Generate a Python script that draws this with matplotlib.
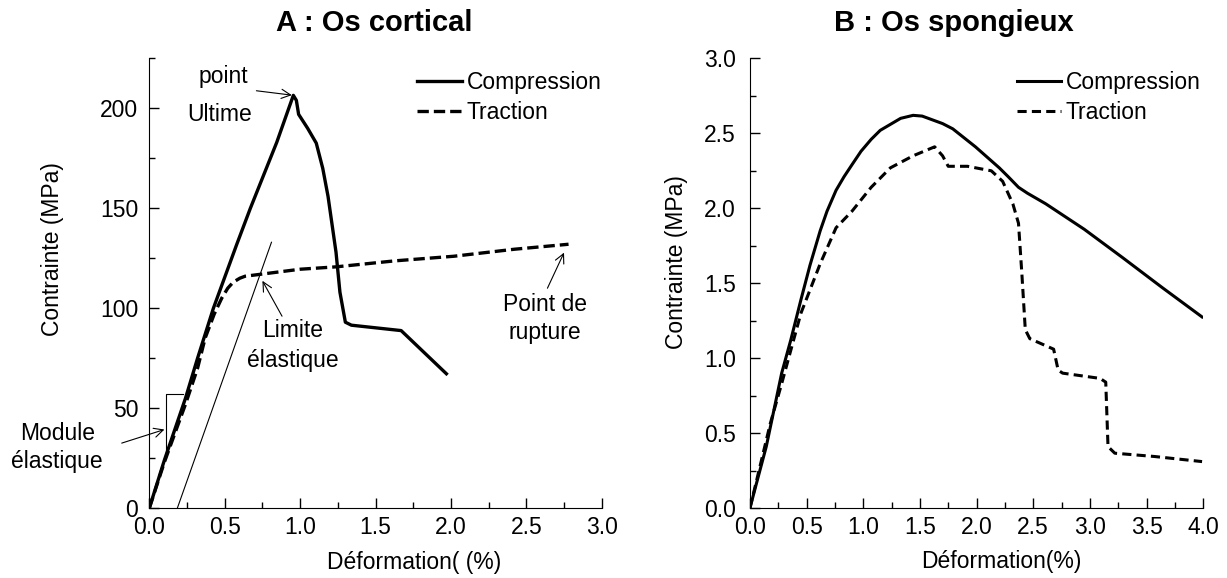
import numpy as np
import matplotlib
matplotlib.use("Agg")
from matplotlib import pyplot as plt
from matplotlib.ticker import MultipleLocator, FormatStrFormatter

plt.rcParams['font.family'] = ['Liberation Sans', 'DejaVu Sans']
plt.rcParams['font.size'] = 16.5

# A : Os cortical
cort_comp_x = [0, 0.1, 0.24, 0.32, 0.425, 0.58, 0.67, 0.845, 0.955, 0.975, 0.99,
               1.05, 1.107, 1.15, 1.185, 1.238, 1.264, 1.30, 1.34, 1.67, 1.97]
cort_comp_y = [0, 24, 55, 75, 100, 132, 150, 183, 206.5, 204, 197,
               190, 182.6, 170, 156, 128, 108, 93, 91.5, 88.8, 67.2]
cort_trac_x = [0, 0.1, 0.24, 0.32, 0.37, 0.43, 0.48, 0.52, 0.556, 0.6, 0.635,
               0.74, 1.0, 1.24, 1.63, 2.02, 2.42, 2.78]
cort_trac_y = [0, 23, 52, 70, 85, 97, 105, 110, 113, 115, 116,
               117, 119.5, 120.7, 123.7, 126, 129.5, 132]
offset_x = [0.186, 0.81]
offset_y = [0, 133]
slope_x = [0.109, 0.109, 0.225]
slope_y = [25, 57.2, 57.2]

# B : Os spongieux
spon_comp_x = [0, 0.07, 0.144, 0.28, 0.36, 0.45, 0.53, 0.62, 0.68, 0.76, 0.83,
               0.90, 0.98, 1.07, 1.15, 1.24, 1.33, 1.44, 1.52, 1.61, 1.70,
               1.79, 1.89, 1.99, 2.08, 2.2, 2.28, 2.37, 2.45, 2.61, 2.95,
               3.29, 3.64, 3.99]
spon_comp_y = [0, 0.2, 0.41, 0.90, 1.12, 1.39, 1.62, 1.85, 1.98, 2.12, 2.21,
               2.29, 2.38, 2.46, 2.52, 2.56, 2.60, 2.62, 2.615, 2.59, 2.565,
               2.53, 2.47, 2.41, 2.35, 2.27, 2.21, 2.14, 2.10, 2.03, 1.86,
               1.67, 1.47, 1.275]
spon_trac_x = [0, 0.18, 0.28, 0.45, 0.62, 0.76, 0.90, 1.07, 1.24, 1.44, 1.63,
               1.70, 1.75, 1.92, 2.13, 2.23, 2.32, 2.37, 2.40, 2.43, 2.47,
               2.68, 2.72, 2.76, 3.09, 3.14, 3.16, 3.22, 3.57, 3.99]
spon_trac_y = [0, 0.565, 0.83, 1.30, 1.63, 1.87, 1.98, 2.14, 2.27, 2.35, 2.41,
               2.35, 2.28, 2.28, 2.25, 2.18, 2.03, 1.90, 1.56, 1.19, 1.13,
               1.06, 0.92, 0.90, 0.865, 0.84, 0.41, 0.366, 0.344, 0.31]

fig = plt.figure(figsize=(12.27, 5.78), dpi=100)
ax1 = fig.add_axes([0.1217, 0.121, 0.3687, 0.778])
ax2 = fig.add_axes([0.6112, 0.121, 0.3694, 0.778])

ax1.plot(cort_comp_x, cort_comp_y, color='black', lw=2.4, label='Compression',
         solid_joinstyle='round')
ax1.plot(cort_trac_x, cort_trac_y, color='black', lw=2.4, dashes=(3.4, 1.5), label='Traction')
ax1.plot(offset_x, offset_y, color='black', lw=0.8)
ax1.plot(slope_x, slope_y, color='black', lw=0.8)

ax2.plot(spon_comp_x, spon_comp_y, color='black', lw=2.2, label='Compression',
         solid_joinstyle='round')
ax2.plot(spon_trac_x, spon_trac_y, color='black', lw=2.2, dashes=(3.0, 1.7), label='Traction')

arrow = dict(arrowstyle='->', color='black', lw=0.8, shrinkA=0, shrinkB=0)
ax1.annotate('', xy=(0.945, 206.6), xytext=(0.71, 208.8), arrowprops=arrow)
ax1.annotate('', xy=(0.75, 113.7), xytext=(0.88, 96), arrowprops=arrow)
ax1.annotate('', xy=(2.75, 127.8), xytext=(2.64, 110), arrowprops=arrow)
ax1.annotate('', xy=(0.10, 39.3), xytext=(-0.183, 32.5), arrowprops=arrow,
             annotation_clip=False)
ax1.text(0.49, 215.8, 'point', ha='center', va='center')
ax1.text(0.464, 196.7, 'Ultime', ha='center', va='center')
ax1.text(0.949, 88.9, 'Limite', ha='center', va='center')
ax1.text(0.949, 74, 'élastique', ha='center', va='center')
ax1.text(2.623, 102, 'Point de', ha='center', va='center')
ax1.text(2.623, 88, 'rupture', ha='center', va='center')
ax1.text(-0.611, 37.3, 'Module', ha='center', va='center', clip_on=False)
ax1.text(-0.611, 23.2, 'élastique', ha='center', va='center', clip_on=False)

for ax, lx in ((ax1, 0.567), (ax2, 0.563)):
    ax.spines['top'].set_visible(False)
    ax.spines['right'].set_visible(False)
    ax.tick_params(which='both', direction='in', width=1)
    ax.tick_params(which='major', length=7)
    ax.tick_params(which='minor', length=4)
    ax.xaxis.set_major_locator(MultipleLocator(0.5))
    ax.xaxis.set_minor_locator(MultipleLocator(0.25))
    ax.xaxis.set_major_formatter(FormatStrFormatter('%.1f'))
    ax.legend(loc='upper left', bbox_to_anchor=(lx, 0.997), frameon=False,
              handlelength=1.95, handletextpad=0.2, labelspacing=0.3, borderpad=0)

ax1.set_xlim(0, 3.0)
ax1.set_ylim(0, 225)
ax1.yaxis.set_major_locator(MultipleLocator(50))
ax1.yaxis.set_minor_locator(MultipleLocator(25))
ax1.tick_params(axis='y', pad=8)
ax1.tick_params(axis='x', pad=6)

ax2.set_xlim(0, 4.0)
ax2.set_ylim(0, 3.0)
ax2.yaxis.set_major_locator(MultipleLocator(0.5))
ax2.yaxis.set_minor_locator(MultipleLocator(0.25))
ax2.yaxis.set_major_formatter(FormatStrFormatter('%.1f'))
ax2.tick_params(axis='y', pad=10)
ax2.tick_params(axis='x', pad=6)

ax1.set_xlabel('Déformation( (%)')
ax1.set_ylabel('Contrainte (MPa)')
ax1.xaxis.set_label_coords(0.585, -0.12)
ax1.yaxis.set_label_coords(-0.215, 0.576)
ax2.set_xlabel('Déformation(%)')
ax2.set_ylabel('Contrainte (MPa)')
ax2.xaxis.set_label_coords(0.555, -0.118)
ax2.yaxis.set_label_coords(-0.161, 0.547)
for lab in (ax1.xaxis.label, ax1.yaxis.label, ax2.xaxis.label, ax2.yaxis.label):
    lab.set_verticalalignment('center')

fig.text(374 / 1227, 1 - 23 / 578, 'A : Os cortical', ha='center', va='center',
         fontsize=21, fontweight='bold')
fig.text(953.5 / 1227, 1 - 23 / 578, 'B : Os spongieux', ha='center', va='center',
         fontsize=21, fontweight='bold')

fig.savefig('out.png', dpi=100)
